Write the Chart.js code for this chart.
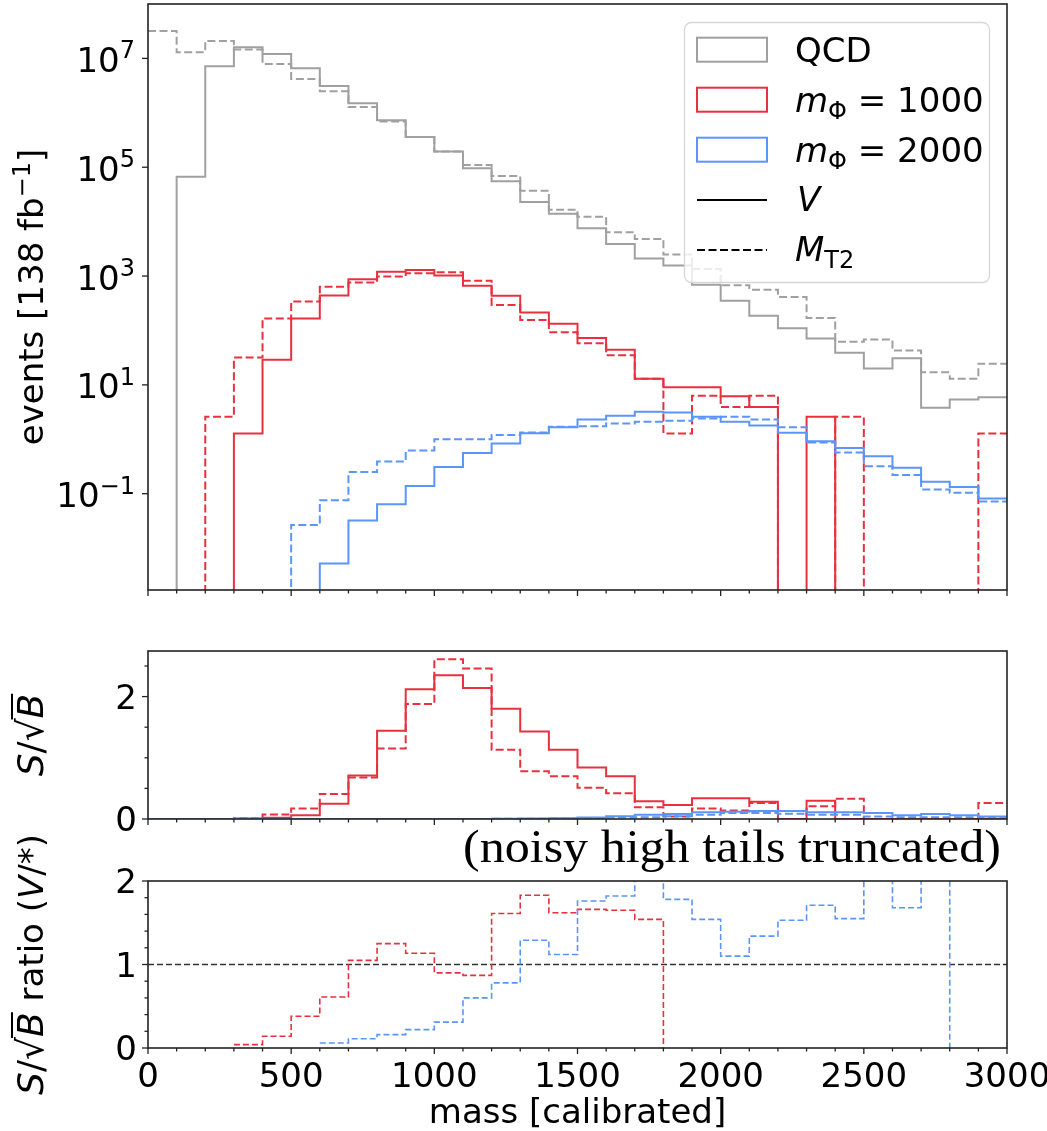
<!DOCTYPE html>
<html>
<head>
<meta charset="utf-8">
<script src="https://cdn.jsdelivr.net/npm/chart.js@4.4.0/dist/chart.umd.min.js"></script>
<style>
  body { margin: 0; background: #fff; width: 1047px; height: 1131px; position: relative; overflow: hidden; }
  canvas { position: absolute; left: 0; }
</style>
</head>
<body>
<canvas id="topChart" width="1047" height="620" style="top:0px"></canvas>
<canvas id="midChart" width="1047" height="215" style="top:620px"></canvas>
<canvas id="botChart" width="1047" height="311" style="top:820px"></canvas>
<script>
// bin edges of the mass histogram
const massEdges = [0, 100, 200, 300, 400, 500, 600, 700, 800, 900, 1000, 1100, 1200, 1300, 1400, 1500,
                   1600, 1700, 1800, 1900, 2000, 2100, 2200, 2300, 2400, 2500, 2600, 2700, 2800, 2900, 3000];
const xMajorTicks = [0, 500, 1000, 1500, 2000, 2500, 3000];
const xTickLabels = ['0', '500', '1000', '1500', '2000', '2500', '3000'];

// top panel: events per bin (0 = empty bin)
const qcdV = [0, 6.7e4, 7.2e6, 1.6e7, 1.2e7, 6.6e6, 3.1e6, 1.5e6, 7.3e5, 3.6e5, 1.94e5, 9.6e4, 5.5e4, 2.3e4, 1.4e4,
              7.6e3, 3.9e3, 2.1e3, 1.57e3, 690, 353, 186, 110, 71, 39, 20, 31, 3.8, 5.4, 5.9];
const qcdMT2 = [3.2e7, 1.3e7, 2.1e7, 1.46e7, 7.9e6, 4.2e6, 2.5e6, 1.28e6, 6.9e5, 3.6e5, 1.94e5, 1.1e5, 6.9e4, 3.7e4, 1.66e4,
                1.23e4, 6.4e3, 4.8e3, 2.5e3, 1.35e3, 680, 560, 410, 170, 62, 68, 43, 17, 13, 24.5];
const m1000V = [0, 0, 0, 1.28, 29, 166, 440, 870, 1200, 1290, 1020, 660, 436, 213, 133,
                73, 44, 13, 9.0, 9.0, 6.2, 3.9, 0, 2.6, 0, 0, 0, 0, 0, 0];
const m1000MT2 = [0, 0, 2.6, 32, 166, 340, 635, 760, 980, 1130, 1170, 820, 295, 156, 93,
                  58, 35, 13, 1.28, 6.3, 3.9, 6.3, 0, 0, 2.6, 0, 0, 0, 0, 1.28];
const m2000V = [0, 0, 0, 0, 0, 0, 0.0052, 0.032, 0.064, 0.138, 0.31, 0.56, 0.84, 1.29, 1.67,
                2.3, 2.7, 3.2, 3.1, 2.6, 2.1, 1.79, 1.32, 0.92, 0.69, 0.49, 0.30, 0.166, 0.133, 0.082];
const m2000MT2 = [0, 0, 0, 0, 0, 0.0265, 0.076, 0.25, 0.39, 0.62, 1.0, 1.0, 1.2, 1.33, 1.7,
                  1.74, 1.95, 2.1, 2.2, 2.4, 2.6, 2.3, 1.67, 0.87, 0.57, 0.32, 0.22, 0.12, 0.104, 0.072];
const topTickValues = [0.1, 10, 1000, 1e5, 1e7];
const topTickExp = ['\u22121', '1', '3', '5', '7'];

// middle panel: S/sqrt(B)
const sb1000V = [0, 0, 0, 0.01, 0.02, 0.06, 0.25, 0.71, 1.44, 2.12, 2.35, 2.14, 1.80, 1.43, 1.13,
                 0.84, 0.70, 0.29, 0.23, 0.34, 0.34, 0.28, 0, 0.30, 0, 0, 0, 0, 0, 0];
const sb1000MT2 = [0, 0, 0, 0.01, 0.075, 0.17, 0.41, 0.68, 1.15, 1.88, 2.61, 2.46, 1.13, 0.78, 0.70,
                   0.51, 0.42, 0.19, 0.04, 0.17, 0.14, 0.26, 0, 0.21, 0.33, 0, 0, 0, 0, 0.26];
const sb2000V = [0, 0, 0, 0, 0, 0, 0, 0, 0, 0, 0, 0.002, 0.004, 0.008, 0.014,
                 0.026, 0.043, 0.07, 0.08, 0.11, 0.12, 0.13, 0.13, 0.11, 0.11, 0.10, 0.06, 0.08, 0.06, 0.04];
const sb2000MT2 = [0, 0, 0, 0, 0, 0, 0, 0, 0, 0, 0, 0.002, 0.003, 0.006, 0.01,
                   0.015, 0.024, 0.03, 0.045, 0.07, 0.10, 0.10, 0.085, 0.07, 0.07, 0.04, 0.03, 0.03, 0.03, 0.02];
const sbTickValues = [0, 0.5, 1, 1.5, 2, 2.5];
const sbTickLabels = ['0', '', '', '', '2', ''];

// bottom panel: S/sqrt(B) ratio V/MT2 (null = not drawn)
const ratio1000 = [null, null, null, 0.04, 0.14, 0.38, 0.61, 1.05, 1.25, 1.135, 0.90, 0.87, 1.61, 1.83, 1.62,
                   1.66, 1.65, 1.54, 0, null, null, null, null, null, null, null, null, null, null, null];
const ratio2000 = [null, null, null, null, null, null, 0.06, 0.11, 0.16, 0.22, 0.31, 0.60, 0.78, 1.29, 1.12,
                   1.76, 1.82, 2.4, 1.78, 1.54, 1.10, 1.34, 1.53, 1.71, 1.55, 2.4, 1.68, 2.4, 0, null];
const unityLine = [1, 1];
const ratioTickValues = [0, 0.2, 0.4, 0.6, 0.8, 1.0, 1.2, 1.4, 1.6, 1.8, 2.0];
const ratioTickLabels = ['0', '', '', '', '', '1', '', '', '', '', '2'];

const SANS = '"DejaVu Sans", sans-serif';
const INK = '#222222';
const GREY = '#a0a0a0';
const RED = '#e8303f';
const BLUE = '#5b95f9';
const EMPTY = 1e-6; // empty bins fall below the log axis

function steps(vals, floor) {
    const pts = vals.map((v, i) => ({ x: massEdges[i], y: (v === 0 && floor !== undefined) ? floor : v }));
    pts.push({ x: massEdges[vals.length], y: pts[pts.length - 1].y });
    return pts;
}

function hist(vals, color, dashed, floor, width, dash) {
    return {
        data: steps(vals, floor),
        borderColor: color,
        borderWidth: width || 2,
        borderDash: dashed ? (dash || [8, 3.5]) : [],
        stepped: 'before',
        pointRadius: 0,
        fill: false,
        spanGaps: false
    };
}

function fontOf(r) {
    return (r.it ? 'italic ' : '') + r.size + 'px ' + SANS;
}

// draw a row of text pieces (for sub/superscripts, italics, overlines)
function drawRuns(ctx, runs, x, y, align) {
    const ws = runs.map(r => { ctx.font = fontOf(r); return ctx.measureText(r.t).width + (r.gap || 0); });
    const total = ws.reduce((s, w) => s + w, 0);
    let cx = align === 'center' ? x - total / 2 : align === 'right' ? x - total : x;
    ctx.textAlign = 'left';
    ctx.textBaseline = 'alphabetic';
    runs.forEach((r, i) => {
        ctx.font = fontOf(r);
        ctx.fillText(r.t, cx, y + (r.dy || 0));
        if (r.over) {
            ctx.beginPath();
            ctx.lineWidth = 2;
            ctx.moveTo(cx - 1, y - r.over);
            ctx.lineTo(cx + ws[i], y - r.over);
            ctx.stroke();
        }
        cx += ws[i];
    });
}

function yTitle(ctx, runs, x, y) {
    ctx.save();
    ctx.fillStyle = '#000';
    ctx.strokeStyle = '#000';
    ctx.translate(x, y);
    ctx.rotate(-Math.PI / 2);
    drawRuns(ctx, runs, 0, 0, 'center');
    ctx.restore();
}

function line(ctx, x1, y1, x2, y2) {
    ctx.beginPath();
    ctx.moveTo(x1, y1);
    ctx.lineTo(x2, y2);
    ctx.stroke();
}

// frame, ticks and labels in matplotlib style
function axesDeco(cfg) {
    return {
        id: 'axesDeco',
        afterDraw(chart) {
            const ctx = chart.ctx, a = chart.chartArea;
            const xs = chart.scales.x, ys = chart.scales.y;
            ctx.save();
            ctx.strokeStyle = INK;
            ctx.lineWidth = 1.3;
            massEdges.forEach(v => {
                const px = xs.getPixelForValue(v);
                const len = xMajorTicks.includes(v) ? 6 : 3.5;
                line(ctx, px, a.bottom, px, a.bottom + len);
            });
            ctx.fillStyle = '#000';
            cfg.yTicks.forEach((v, i) => {
                const py = ys.getPixelForValue(v);
                const major = cfg.yMajor(i);
                line(ctx, a.left - (major ? 6 : 3.5), py, a.left, py);
                cfg.yLabel(ctx, i, a.left, py);
            });
            if (cfg.extra) cfg.extra(chart, ctx, a);
            ctx.strokeStyle = INK;
            ctx.lineWidth = 1.6;
            ctx.strokeRect(a.left, a.top, a.right - a.left, a.bottom - a.top);
            ctx.restore();
        }
    };
}

function plainLabel(labels) {
    return (ctx, i, left, py) => {
        if (!labels[i]) return;
        ctx.font = '34px ' + SANS;
        ctx.textAlign = 'right';
        ctx.textBaseline = 'alphabetic';
        ctx.fillText(labels[i], left - 11, py + 12.4);
    };
}

function makePanel(id, yScale, datasets, padding, deco) {
    return new Chart(document.getElementById(id), {
        type: 'line',
        data: { datasets: datasets },
        options: {
            responsive: false,
            animation: false,
            devicePixelRatio: 1,
            layout: { padding: padding },
            plugins: { legend: { display: false }, tooltip: { enabled: false } },
            elements: { point: { radius: 0 }, line: { tension: 0 } },
            scales: {
                x: { type: 'linear', min: 0, max: 3000, display: false },
                y: Object.assign({ display: false }, yScale)
            }
        },
        plugins: [deco]
    });
}

const sqrtB = [{ t: 'S', size: 36, it: true }, { t: '/', size: 36 }, { t: '\u221A', size: 36 },
               { t: 'B', size: 36, it: true, over: 31 }];

// 1. Panel superior: eventos (escala log)
makePanel('topChart',
    { type: 'logarithmic', min: Math.pow(10, -2.77), max: 1e8 },
    [
        hist(m2000MT2, BLUE, true, EMPTY),
        hist(m2000V, BLUE, false, EMPTY),
        hist(m1000MT2, RED, true, EMPTY),
        hist(m1000V, RED, false, EMPTY),
        hist(qcdMT2, GREY, true, EMPTY),
        hist(qcdV, GREY, false, EMPTY)
    ],
    { left: 148, right: 40, top: 4, bottom: 30 },
    axesDeco({
        yTicks: topTickValues,
        yMajor: () => true,
        yLabel: (ctx, i, left, py) => {
            drawRuns(ctx, [{ t: '10', size: 34 }, { t: topTickExp[i], size: 24, dy: -13.5 }], left - 13, py + 13.5, 'right');
        },
        extra: (chart, ctx, a) => {
            yTitle(ctx, [{ t: 'events [138 fb', size: 34 }, { t: '\u22121', size: 24, dy: -13 }, { t: ']', size: 34 }],
                   43, (a.top + a.bottom) / 2);
            // legend
            ctx.save();
            ctx.beginPath();
            ctx.roundRect(684.5, 22.5, 305, 260, 7);
            ctx.fillStyle = 'rgba(255,255,255,0.8)';
            ctx.fill();
            ctx.strokeStyle = '#d6d6d6';
            ctx.lineWidth = 1.3;
            ctx.stroke();
            const patches = [[GREY, 37.7], [RED, 87.7], [BLUE, 137.7]];
            ctx.lineWidth = 2;
            patches.forEach(p => { ctx.strokeStyle = p[0]; ctx.strokeRect(697, p[1], 70, 24); });
            ctx.strokeStyle = '#000';
            line(ctx, 697, 200, 767, 200);
            ctx.setLineDash([8, 3.5]);
            line(ctx, 697, 250, 767, 250);
            ctx.setLineDash([]);
            ctx.fillStyle = '#000';
            drawRuns(ctx, [{ t: 'QCD', size: 34 }], 795, 61.7, 'left');
            drawRuns(ctx, [{ t: 'm', size: 34, it: true }, { t: '\u03A6', size: 24, dy: 7 }, { t: ' = 1000', size: 34 }], 795, 111.7, 'left');
            drawRuns(ctx, [{ t: 'm', size: 34, it: true }, { t: '\u03A6', size: 24, dy: 7 }, { t: ' = 2000', size: 34 }], 795, 161.7, 'left');
            drawRuns(ctx, [{ t: 'V', size: 34, it: true }], 797, 211, 'left');
            drawRuns(ctx, [{ t: 'M', size: 34, it: true }, { t: 'T2', size: 24, dy: 7 }], 795, 261, 'left');
            ctx.restore();
        }
    })
);

// 2. Panel medio: S/sqrt(B)
makePanel('midChart',
    { type: 'linear', min: 0, max: 2.745 },
    [
        hist(sb2000MT2, BLUE, true),
        hist(sb2000V, BLUE, false),
        hist(sb1000MT2, RED, true),
        hist(sb1000V, RED, false)
    ],
    { left: 148, right: 40, top: 31, bottom: 16 },
    axesDeco({
        yTicks: sbTickValues,
        yMajor: i => sbTickLabels[i] !== '',
        yLabel: plainLabel(sbTickLabels),
        extra: (chart, ctx, a) => {
            yTitle(ctx, sqrtB, 43, (a.top + a.bottom) / 2);
        }
    })
);

// 3. Panel inferior: cociente
makePanel('botChart',
    { type: 'linear', min: 0, max: 2.0 },
    [
        hist(ratio2000, BLUE, true, undefined, 1.6, [6, 3]),
        hist(ratio1000, RED, true, undefined, 1.6, [6, 3]),
        {
            data: unityLine.map((v, i) => ({ x: i === 0 ? massEdges[0] : massEdges[massEdges.length - 1], y: v })),
            borderColor: '#333333', borderWidth: 1.6, borderDash: [6, 3], pointRadius: 0, fill: false
        }
    ],
    { left: 148, right: 40, top: 61, bottom: 83 },
    axesDeco({
        yTicks: ratioTickValues,
        yMajor: i => ratioTickLabels[i] !== '',
        yLabel: plainLabel(ratioTickLabels),
        extra: (chart, ctx, a) => {
            const xs = chart.scales.x;
            ctx.save();
            ctx.fillStyle = '#000';
            ctx.font = '34px ' + SANS;
            ctx.textAlign = 'center';
            ctx.textBaseline = 'alphabetic';
            xTickLabels.forEach((t, i) => ctx.fillText(t, xs.getPixelForValue(xMajorTicks[i]), a.bottom + 38.7));
            ctx.fillText('mass [calibrated]', (a.left + a.right) / 2, a.bottom + 75);
            // serif note, stretched to the width it has in the figure
            const note = '(noisy high tails truncated)';
            ctx.font = '46px "Liberation Serif", serif';
            const sx = 538 / ctx.measureText(note).width;
            ctx.translate(1001, a.top - 19.3);
            ctx.scale(sx, 1);
            ctx.textAlign = 'right';
            ctx.fillText(note, 0, 0);
            ctx.restore();
            yTitle(ctx, sqrtB.concat([{ t: ' ratio (', size: 34 }, { t: 'V', size: 34, it: true }, { t: '/*)', size: 34 }]),
                   43, (a.top + a.bottom) / 2);
        }
    })
);
</script>
</body>
</html>
